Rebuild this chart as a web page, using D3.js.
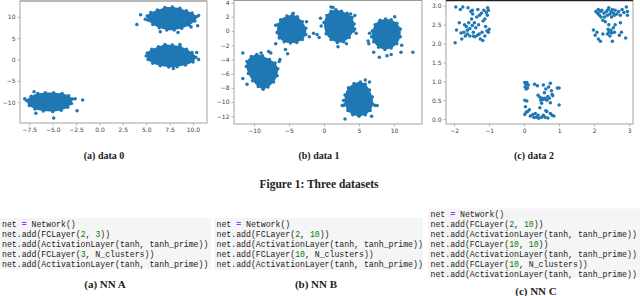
<!DOCTYPE html>
<html lang="en">
  <head>
    <meta charset="utf-8">
    <title>Three datasets</title>
    <script src="https://cdnjs.cloudflare.com/ajax/libs/d3/7.8.5/d3.min.js"></script>
    <style>
      body { margin: 0; background: #fff; }
      .tick text { font-family: "DejaVu Sans", sans-serif; font-size: 6px; fill: #444; }
      .cap { font-family: "Liberation Serif", serif; font-weight: bold; fill: #222; }
      .code { font-family: "Liberation Mono", monospace; font-size: 8.2px; fill: #222; white-space: pre; }
    </style>
  </head>
  <body>
    <div id="chartDiv"></div>
    <script>
      // ---- data 0 : three dense clusters (outlines of the solid blobs + stray points)
      var blobs0 = [
        [[5.1,10.2],[5.5,11.0],[6.2,11.6],[7.0,12.2],[7.8,12.3],[8.6,12.0],[9.3,11.4],[9.9,10.9],[10.4,10.0],[10.2,9.0],[9.6,8.0],[8.8,7.3],[8.0,6.9],[7.2,6.9],[6.4,7.4],[5.7,8.2],[5.2,9.2]],
        [[5.1,1.5],[5.6,2.4],[6.3,3.0],[7.0,3.5],[7.8,3.4],[8.6,3.1],[9.3,2.4],[9.9,1.6],[10.3,0.5],[10.0,-0.6],[9.2,-1.3],[8.3,-1.7],[7.4,-1.8],[6.5,-1.5],[5.7,-0.9],[5.2,0.0]],
        [[-7.8,-9.6],[-7.3,-8.6],[-6.6,-8.0],[-5.8,-7.8],[-4.9,-7.8],[-4.0,-8.0],[-3.3,-8.5],[-2.9,-9.3],[-3.0,-10.3],[-3.4,-11.2],[-4.1,-11.9],[-5.0,-12.2],[-6.0,-12.1],[-6.9,-11.6],[-7.5,-10.8]]
      ];
      var points0 = [[4.0,8.2],[4.4,10.5],[10.5,7.9],[6.5,6.5],[8.4,6.3],[4.9,9.4],[9.8,7.6],[10.6,10.3],
        [10.6,0.0],[8.6,3.5],[5.0,0.8],[10.4,1.6],[7.9,-2.1],
        [-8.0,-9.2],[-1.8,-9.5],[-2.4,-12.0],[-4.9,-13.7],[-2.6,-9.2],[-6.8,-12.6],[-7.0,-7.6]];

      // ---- data 1 : five clusters
      var blobs1 = [
        [[-11.0,-4.3],[-10.4,-3.6],[-9.6,-3.3],[-8.8,-3.5],[-7.8,-4.0],[-7.0,-4.5],[-6.6,-5.3],[-6.7,-6.3],[-7.2,-7.2],[-8.0,-7.9],[-8.7,-8.2],[-9.4,-7.8],[-10.2,-7.0],[-10.8,-6.0],[-11.1,-5.0]],
        [[-6.6,0.9],[-6.2,1.6],[-5.3,2.1],[-4.5,2.3],[-3.8,2.0],[-3.1,1.3],[-2.6,0.4],[-2.6,-0.5],[-3.1,-1.2],[-3.9,-1.6],[-4.8,-1.7],[-5.7,-1.5],[-6.4,-1.0],[-6.7,-0.2]],
        [[0.0,1.2],[0.4,2.2],[1.0,2.8],[1.7,3.0],[2.5,2.8],[3.3,2.5],[4.0,1.9],[4.3,1.0],[4.2,0.0],[3.6,-0.9],[2.8,-1.5],[1.9,-1.6],[1.0,-1.2],[0.3,-0.4]],
        [[6.9,0.0],[7.3,0.9],[8.0,1.5],[8.8,1.7],[9.6,1.6],[10.4,1.1],[10.9,0.3],[10.9,-0.8],[10.4,-1.8],[9.6,-2.4],[8.7,-2.6],[7.8,-2.3],[7.1,-1.5],[6.8,-0.8]],
        [[3.0,-9.0],[3.5,-8.0],[4.3,-7.4],[5.2,-7.2],[5.9,-7.5],[6.5,-8.3],[6.9,-9.3],[7.0,-10.3],[6.6,-11.2],[5.9,-11.8],[5.0,-12.0],[4.1,-11.8],[3.4,-11.2],[3.0,-10.3]]
      ];
      var points1 = [[-11.6,-3.1],[-11.6,-6.7],[-11.0,-7.5],[-7.9,-2.9],[-7.6,-3.1],[-6.4,-4.3],[-6.3,-4.0],[-9.0,-3.1],
        [-6.9,0.8],[-1.5,-0.3],[-1.0,-0.5],[-0.7,-0.9],[-5.2,-3.2],[-5.5,-2.6],[-2.5,1.3],[-6.9,-1.8],[-2.1,-0.8],[-4.4,2.5],
        [1.0,3.4],[1.3,3.3],[3.8,2.4],[4.4,2.2],[4.4,0.3],[-0.5,1.8],[-0.4,0.7],[2.0,-2.2],[4.6,-0.3],[3.2,-1.8],
        [10.1,2.0],[6.3,-1.4],[6.4,-1.8],[7.1,-3.0],[7.9,-3.7],[9.0,-3.5],[9.6,-3.3],[11.1,-2.0],[11.0,-3.0],[12.7,-3.0],[6.5,-0.3],
        [2.8,-10.5],[2.6,-10.5],[3.0,-12.4],[5.9,-6.9],[6.5,-7.2],[7.6,-10.5],[6.8,-12.0],[7.3,-10.5],[2.8,-9.8]];

      // ---- data 2 : three sparse square clusters
      var points2 = [
        [-1.97,2.02],[-1.93,2.36],[-1.95,2.97],[-1.85,2.55],[-1.82,2.9],[-1.78,2.12],[-1.75,2.97],[-1.72,2.3],[-1.7,2.5],[-1.68,2.2],
        [-1.65,2.45],[-1.62,2.25],[-1.6,2.95],[-1.58,2.55],[-1.55,2.2],[-1.55,2.4],[-1.52,2.85],[-1.5,2.65],[-1.48,2.48],[-1.47,2.78],
        [-1.45,2.3],[-1.42,2.55],[-1.4,2.18],[-1.38,2.42],[-1.35,2.7],[-1.33,2.22],[-1.3,2.5],[-1.28,2.25],[-1.27,2.75],[-1.25,2.12],
        [-1.22,2.8],[-1.2,2.3],[-1.18,2.08],[-1.17,2.6],[-1.15,2.88],[-1.12,2.2],[-1.1,2.45],[-1.08,2.82],[-1.06,2.33],[-1.04,2.95],
        [-1.02,2.88],[-1.0,2.38],[-1.02,2.3],[-1.05,2.75],[-1.12,2.65],[-1.32,2.9],[-1.48,2.88],[-1.62,2.35],[-1.8,2.28],[-1.45,2.2],
        [0.02,0.97],[0.05,0.92],[0.08,0.97],[0.03,0.85],[0.06,0.8],[0.1,0.82],[0.12,0.9],[0.02,0.5],[0.08,0.48],[0.04,0.33],
        [0.02,0.12],[0.06,0.18],[0.1,0.2],[0.15,0.25],[0.18,0.08],[0.25,0.12],[0.28,0.04],[0.32,0.15],[0.35,0.05],[0.4,0.1],
        [0.42,0.02],[0.5,0.05],[0.55,0.1],[0.6,0.05],[0.65,0.2],[0.68,0.03],[0.75,0.15],[0.8,0.1],[0.85,0.08],[0.3,0.92],
        [0.38,0.88],[0.4,0.63],[0.45,0.58],[0.48,0.5],[0.5,0.42],[0.52,0.55],[0.55,0.52],[0.58,0.7],[0.6,0.55],[0.62,0.8],
        [0.65,0.5],[0.68,0.6],[0.7,0.85],[0.72,0.55],[0.75,0.95],[0.78,0.75],[0.8,0.65],[0.82,0.62],[0.95,0.82],[1.0,0.82],
        [1.0,0.37],[0.45,0.3],[0.62,0.22],[0.75,0.43],[0.55,0.9],
        [1.98,2.36],[2.03,2.22],[2.08,2.3],[2.12,2.12],[2.18,2.06],[2.05,2.85],[2.1,2.8],[2.12,2.9],[2.15,2.75],[2.18,2.85],
        [2.2,2.7],[2.22,2.88],[2.25,2.62],[2.28,2.8],[2.3,2.7],[2.32,2.58],[2.35,2.85],[2.38,2.75],[2.4,2.9],[2.42,2.95],
        [2.45,2.78],[2.48,2.85],[2.5,2.7],[2.52,2.9],[2.55,2.8],[2.58,2.75],[2.6,2.88],[2.65,2.78],[2.7,2.85],[2.75,2.75],
        [2.8,2.9],[2.85,2.82],[2.92,2.97],[2.95,2.85],[2.95,2.75],[2.9,2.15],[2.78,2.3],[2.72,2.22],[2.75,2.55],[2.4,2.38],
        [2.42,2.3],[2.45,2.2],[2.48,2.35],[2.5,2.28],[2.52,2.06],[2.55,2.42],[2.58,2.3],[2.42,2.5],[2.6,2.5],[2.38,2.25],[2.25,2.25]
      ];

      // tick values
      var xTicks0 = [-7.5, -5, -2.5, 0, 2.5, 5, 7.5, 10];
      var yTicks0 = [-10, -5, 0, 5, 10];
      var xTicks1 = [-10, -5, 0, 5, 10];
      var yTicks1 = [-12, -10, -8, -6, -4, -2, 0, 2, 4];
      var xTicks2 = [-2, -1, 0, 1, 2, 3];
      var yTicks2 = [0, 0.5, 1, 1.5, 2, 2.5, 3];

      var plotCaptions = ["(a) data 0", "(b) data 1", "(c) data 2"];
      var figCaption = "Figure 1: Three datasets";
      var netCaptions = ["(a) NN A", "(b) NN B", "(c) NN C"];

      var codeA = ["net = Network()", "net.add(FCLayer(2, 3))", "net.add(ActivationLayer(tanh, tanh_prime))",
                   "net.add(FCLayer(3, N_clusters))", "net.add(ActivationLayer(tanh, tanh_prime))"];
      var codeB = ["net = Network()", "net.add(FCLayer(2, 10))", "net.add(ActivationLayer(tanh, tanh_prime))",
                   "net.add(FCLayer(10, N_clusters))", "net.add(ActivationLayer(tanh, tanh_prime))"];
      var codeC = ["net = Network()", "net.add(FCLayer(2, 10))", "net.add(ActivationLayer(tanh, tanh_prime))",
                   "net.add(FCLayer(10, 10))", "net.add(ActivationLayer(tanh, tanh_prime))",
                   "net.add(FCLayer(10, N_clusters))", "net.add(ActivationLayer(tanh, tanh_prime))"];

      var blue = "#1f77b4";
      var dotR = 1.75;

      var svg = d3.select("#chartDiv")
          .append("svg")
          .attr("width", 640)
          .attr("height", 296);

      var panels = [
        {x0: 20, x1: 207, y0: 1, y1: 123, xd: [-8.5, 11.5], yd: [-14.9, 13.7],
         xt: xTicks0, yt: yTicks0, xf: d3.format(".1f"), yf: d3.format("d"),
         blobs: blobs0, pts: points0, frame: "#9a9a9a", top: "#9a9a9a"},
        {x0: 234, x1: 422, y0: 0.5, y1: 124, xd: [-12.86, 14], yd: [-13.1, 4.3],
         xt: xTicks1, yt: yTicks1, xf: d3.format("d"), yf: d3.format("d"),
         blobs: blobs1, pts: points1, frame: "#9a9a9a", top: "#9a9a9a"},
        {x0: 446, x1: 633, y0: 0.5, y1: 124, xd: [-2.23, 3.11], yd: [-0.13, 3.14],
         xt: xTicks2, yt: yTicks2, xf: d3.format("d"), yf: d3.format(".1f"),
         blobs: [], pts: points2, frame: "#9a9a9a", top: "#222"}
      ];

      panels.forEach(function(p) {
        var x = d3.scaleLinear().domain(p.xd).range([p.x0, p.x1]);
        var y = d3.scaleLinear().domain(p.yd).range([p.y1, p.y0]);
        var g = svg.append("g");

        var line = d3.line()
            .x(function(d) { return x(d[0]); })
            .y(function(d) { return y(d[1]); })
            .curve(d3.curveCatmullRomClosed);

        g.selectAll("path.blob")
         .data(p.blobs)
         .enter()
         .append("path")
         .attr("class", "blob")
         .attr("d", line)
         .attr("fill", blue);

        var edgePts = [].concat.apply([], p.blobs).concat(p.pts);
        g.selectAll("circle")
         .data(edgePts)
         .enter()
         .append("circle")
         .attr("cx", function(d) { return x(d[0]); })
         .attr("cy", function(d) { return y(d[1]); })
         .attr("r", dotR)
         .attr("fill", blue);

        var xAxis = d3.axisBottom(x).tickValues(p.xt).tickFormat(p.xf).tickSize(2.5).tickPadding(2);
        var yAxis = d3.axisLeft(y).tickValues(p.yt).tickFormat(p.yf).tickSize(2.5).tickPadding(2);

        var gx = g.append("g").attr("transform", "translate(0," + p.y1 + ")").call(xAxis);
        var gy = g.append("g").attr("transform", "translate(" + p.x0 + ",0)").call(yAxis);
        [gx, gy].forEach(function(a) {
          a.select(".domain").remove();
          a.selectAll(".tick line").attr("stroke", p.frame).attr("stroke-width", 0.7);
        });
        gx.selectAll(".tick text").attr("dy", "0.75em");

        // frame
        g.append("rect")
         .attr("x", p.x0).attr("y", p.y0)
         .attr("width", p.x1 - p.x0).attr("height", p.y1 - p.y0)
         .attr("fill", "none").attr("stroke", p.frame).attr("stroke-width", 0.9);
        g.append("line")
         .attr("x1", p.x0).attr("x2", p.x1).attr("y1", p.y0).attr("y2", p.y0)
         .attr("stroke", p.top).attr("stroke-width", p.top === "#222" ? 1.6 : 0.9);
      });

      // captions under the plots
      var capX = [104, 319, 534];
      svg.selectAll("text.pcap")
         .data(plotCaptions)
         .enter()
         .append("text")
         .attr("class", "cap")
         .attr("x", function(d, i) { return capX[i]; })
         .attr("y", 159)
         .attr("text-anchor", "middle")
         .attr("font-size", "10px")
         .text(function(d) { return d; });

      svg.append("text")
         .attr("class", "cap")
         .attr("x", 319).attr("y", 188)
         .attr("text-anchor", "middle")
         .attr("font-size", "11.5px")
         .text(figCaption);

      // code blocks
      var blocks = [
        {lines: codeA, x: 0, w: 211, top: 218, bot: 269, tx: 2, y: 226.5},
        {lines: codeB, x: 214, w: 209, top: 218, bot: 270, tx: 216.5, y: 226.5},
        {lines: codeC, x: 428, w: 212, top: 208.5, bot: 278, tx: 430.5, y: 216.5}
      ];

      blocks.forEach(function(b) {
        svg.append("rect")
           .attr("x", b.x).attr("y", b.top)
           .attr("width", b.w).attr("height", b.bot - b.top)
           .attr("fill", "#f5f5f5");

        b.lines.forEach(function(l, i) {
          var t = svg.append("text")
             .attr("class", "code")
             .attr("x", b.tx)
             .attr("y", b.y + i * 10)
             .attr("xml:space", "preserve");
          l.split(/( = |\b\d+\b)/).forEach(function(tok) {
            if (tok === "") return;
            if (tok === " = ") {
              t.append("tspan").text(" ");
              t.append("tspan").attr("fill", "#aa22ff").attr("font-weight", "bold").text("=");
              t.append("tspan").text(" ");
            } else if (/^\d+$/.test(tok)) {
              t.append("tspan").attr("fill", "#008000").text(tok);
            } else {
              t.append("tspan").text(tok);
            }
          });
        });
      });

      var netX = [105, 316, 536];
      var netY = [288, 288, 294.5];
      svg.selectAll("text.ncap")
         .data(netCaptions)
         .enter()
         .append("text")
         .attr("class", "cap")
         .attr("x", function(d, i) { return netX[i]; })
         .attr("y", function(d, i) { return netY[i]; })
         .attr("text-anchor", "middle")
         .attr("font-size", "11px")
         .text(function(d) { return d; });
    </script>
  </body>
</html>
